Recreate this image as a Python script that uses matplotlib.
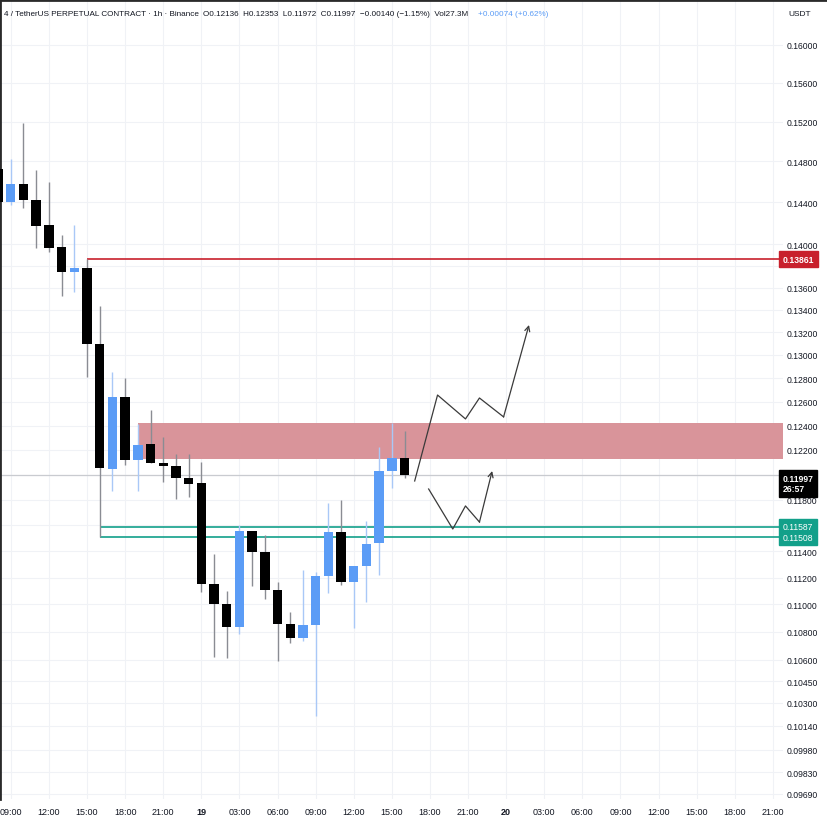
import matplotlib
matplotlib.use('Agg')
import matplotlib.pyplot as plt
from matplotlib.ticker import NullLocator

plt.rcParams['font.family'] = ['Liberation Sans', 'DejaVu Sans']

# hourly candles, index 0 = 08:00 on the 18th
opens = [0.14725, 0.14403, 0.14578, 0.14422, 0.14183, 0.13975, 0.13743, 0.13780,
         0.13096, 0.12045, 0.12640, 0.12117, 0.12248, 0.12093, 0.12069, 0.11972,
         0.11932, 0.11151, 0.11003, 0.10835, 0.11555, 0.11393, 0.11107, 0.10857,
         0.10755, 0.10849, 0.11211, 0.11547, 0.11166, 0.11287, 0.11462, 0.12028,
         0.12136]
highs = [0.14900, 0.14824, 0.15186, 0.14715, 0.14597, 0.14088, 0.14183, 0.13861,
         0.13434, 0.12853, 0.12801, 0.12413, 0.12530, 0.12305, 0.12166, 0.12166,
         0.12101, 0.11378, 0.11099, 0.11601, 0.11555, 0.11524, 0.11166, 0.10944,
         0.11256, 0.11241, 0.11773, 0.11797, 0.11287, 0.11632, 0.12223, 0.12421,
         0.12353]
lows = [0.14370, 0.14374, 0.14345, 0.13966, 0.13929, 0.13524, 0.13560, 0.12810,
        0.11508, 0.11868, 0.12077, 0.11868, 0.12093, 0.11940, 0.11805, 0.11821,
        0.11092, 0.10619, 0.10612, 0.10784, 0.11136, 0.11040, 0.10591, 0.10719,
        0.10734, 0.10208, 0.11084, 0.11144, 0.10828, 0.11018, 0.11219, 0.11892,
        0.11972]
closes = [0.14403, 0.14578, 0.14422, 0.14173, 0.13966, 0.13743, 0.13780, 0.13096,
          0.12053, 0.12640, 0.12117, 0.12240, 0.12093, 0.12069, 0.11972, 0.11924,
          0.11151, 0.11003, 0.10835, 0.11555, 0.11393, 0.11107, 0.10857, 0.10755,
          0.10849, 0.11211, 0.11547, 0.11166, 0.11287, 0.11454, 0.12028, 0.12134,
          0.11997]

price_ticks = [0.16000, 0.15600, 0.15200, 0.14800, 0.14400, 0.14000, 0.13800, 0.13600,
               0.13400, 0.13200, 0.13000, 0.12800, 0.12600, 0.12400, 0.12200, 0.12000,
               0.11800, 0.11600, 0.11400, 0.11200, 0.11000, 0.10800, 0.10600, 0.10450,
               0.10300, 0.10140, 0.09980, 0.09830, 0.09690]
hidden_ticks = [0.13800, 0.12000, 0.11600]   # covered by the price labels

time_ticks = list(range(1, 62, 3))
time_labels = ['09:00', '12:00', '15:00', '18:00', '21:00', '19', '03:00', '06:00',
               '09:00', '12:00', '15:00', '18:00', '21:00', '20', '03:00', '06:00',
               '09:00', '12:00', '15:00', '18:00', '21:00']

# levels / zones
red_level = 0.13861
red_start = 7
green_levels = [0.11587, 0.11508]
green_start = 8
zone_top, zone_bottom, zone_start = 0.12420, 0.12126, 11
last_price = 0.11997

# hand drawn paths (hour index, price)
path_up_x = [32.8, 34.6, 36.8, 37.9, 39.8, 41.8]
path_up_y = [0.11948, 0.12656, 0.12455, 0.12631, 0.12472, 0.13264]
path_dn_x = [33.9, 35.8, 36.8, 37.9, 38.9]
path_dn_y = [0.11884, 0.11570, 0.11750, 0.11624, 0.12028]

UP_BODY = '#5b9cf6'
UP_WICK = '#a9c8f7'
DN_BODY = '#000000'
DN_WICK = '#8a8c93'
RED = '#c8202c'
TEAL = '#12a08a'

fig = plt.figure(figsize=(8.28, 8.2), dpi=100)
ax = fig.add_axes([0, 20 / 820, 783 / 828, 798 / 820])
ax.set_yscale('log')
ax.set_ylim(0.09656, 0.16478)
ax.set_xlim(0.15, 61.8)

for t in time_ticks:
    ax.axvline(t, color='#f0f2f6', lw=0.8, zorder=0)
for p in price_ticks:
    ax.axhline(p, color='#f0f2f6', lw=0.8, zorder=0)

# zone and levels
ax.fill_between([zone_start, 61.8], zone_bottom, zone_top, color='#d9949a', lw=0, zorder=1)
ax.hlines(red_level, red_start, 61.8, color=RED, lw=1.2, zorder=2)
for g in green_levels:
    ax.hlines(g, green_start, 61.8, color=TEAL, lw=1.2, zorder=2)
ax.axhline(last_price, color='#c9cbd0', lw=0.9, zorder=1)

# candles
for i, (o, h, l, c) in enumerate(zip(opens, highs, lows, closes)):
    up = c >= o
    ax.vlines(i, l, h, color=UP_WICK if up else DN_WICK, lw=1.0, zorder=3)
    lo, hi = min(o, c), max(o, c)
    ax.bar(i, hi - lo, bottom=lo, width=0.74, color=UP_BODY if up else DN_BODY,
           lw=0, zorder=4)

# drawn projections
for xs, ys in [(path_up_x, path_up_y), (path_dn_x, path_dn_y)]:
    ax.plot(xs[:-1], ys[:-1], color='#3a3a3a', lw=0.9, zorder=5)
    ax.annotate('', xy=(xs[-1], ys[-1]), xytext=(xs[-2], ys[-2]),
                arrowprops=dict(arrowstyle='->', color='#3a3a3a', lw=0.9,
                                shrinkA=0, shrinkB=0, mutation_scale=9), zorder=5)

# axes styling
ax.yaxis.tick_right()
ax.yaxis.set_minor_locator(NullLocator())
ax.set_yticks(price_ticks)
ax.set_yticklabels(['' if p in hidden_ticks else f'{p:.5f}' for p in price_ticks])
ax.tick_params(axis='y', length=0, pad=2.5, labelsize=6.2, colors='#131722')
ax.set_xticks(time_ticks)
ax.set_xticklabels(time_labels)
ax.tick_params(axis='x', length=0, pad=6, labelsize=6.5, colors='#131722')
for lab in ax.get_xticklabels():
    if lab.get_text() in ('19', '20'):
        lab.set_fontweight('bold')
for s in ['top', 'right', 'bottom']:
    ax.spines[s].set_visible(False)
ax.spines['left'].set_color('#2a2a2a')
ax.spines['left'].set_linewidth(2)

# price tags on the axis
trans = ax.get_yaxis_transform()
tag = dict(transform=trans, ha='left', va='center', fontsize=6.2, color='white',
           linespacing=1.2, clip_on=False, zorder=10)
ax.text(1.0, red_level, '0.13861', fontweight='bold',
        bbox=dict(boxstyle='square,pad=0.42', fc=RED, ec=RED), **tag)
ax.text(1.0, sum(green_levels) / 2, '0.11587\n0.11508',
        bbox=dict(boxstyle='square,pad=0.42', fc=TEAL, ec=TEAL), **tag)
ax.text(1.0, 0.11930, '0.11997\n26:57', fontweight='bold',
        bbox=dict(boxstyle='square,pad=0.42', fc='black', ec='black'), **tag)

# header
hy = 1 - 14 / 820
fig.text(4 / 828, hy, '4 / TetherUS PERPETUAL CONTRACT \u00b7 1h \u00b7 Binance',
         fontsize=5.9, color='#131722', va='center', ha='left')
fig.text(203 / 828, hy,
         'O0.12136  H0.12353  L0.11972  C0.11997  \u22120.00140 (\u22121.15%)  Vol27.3M',
         fontsize=5.9, color='#131722', va='center', ha='left')
fig.text(478 / 828, hy, '+0.00074 (+0.62%)', fontsize=5.9, color='#5b9cf6',
         va='center', ha='left')
fig.text(800 / 828, hy, 'USDT', fontsize=6.0, color='#131722',
         va='center', ha='center')
fig.add_artist(plt.Line2D([0, 1], [1 - 1 / 820, 1 - 1 / 820], color='#2a2a2a', lw=2,
                          transform=fig.transFigure))

fig.savefig('out.png', dpi=100)
